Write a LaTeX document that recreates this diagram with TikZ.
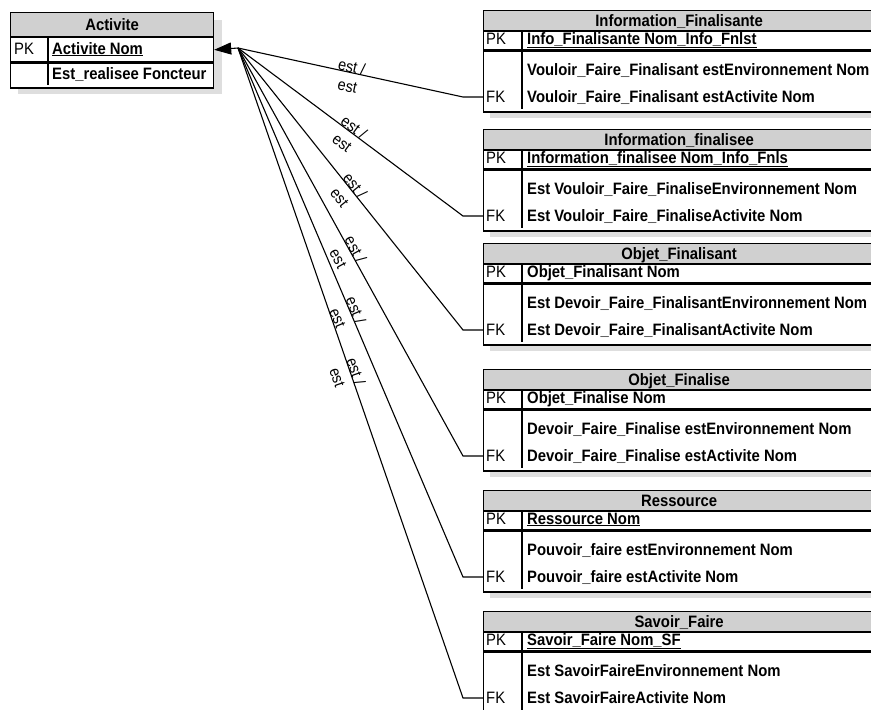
\documentclass[tikz,border=0pt]{standalone}
\usepackage{fontspec}
\setmainfont{Liberation Sans}
\newfontfamily\tblfont[FakeStretch=0.9]{Liberation Sans}
\usetikzlibrary{arrows.meta, calc}
\definecolor{hdrgray}{RGB}{208,208,208}
\definecolor{shdgray}{RGB}{222,222,222}
\tikzset{
  tblhd/.style={draw, fill=hdrgray, line width=1.2pt, inner sep=0pt, anchor=north west,
    text height=11.5pt, text depth=0pt, font=\tblfont\bfseries\fontsize{16.5}{18}\selectfont},
  tblrow/.style={draw, fill=white, line width=1.2pt, inner sep=0pt, anchor=north west},
  keytxt/.style={font=\tblfont\fontsize{16.5}{18}\selectfont, anchor=base west, inner sep=0pt},
  attrtxt/.style={font=\tblfont\bfseries\fontsize{16.5}{18}\selectfont, anchor=base west, inner sep=0pt},
  shd/.style={fill=shdgray},
  rel/.style={line width=1.1pt},
  estlbl/.style={font=\tblfont\fontsize{16}{18}\selectfont, sloped, inner sep=0.5pt},
}

\begin{document}
\begin{tikzpicture}[x=1pt, y=-1pt]
\clip (0,0) rectangle (871,710);
\def\xT{483}\def\xD{522}\def\xA{527}
\fill[shd] (18,20) rectangle (222,94);
\node[tblhd, minimum width=203pt, minimum height=24pt] (act) at (10,12) {Activite};
\node[tblrow, minimum width=203pt, minimum height=24pt] (act-pk) at (act.south west) {};
\node[tblrow, minimum width=203pt, minimum height=25pt] (act-at) at (act-pk.south west) {};
\draw[line width=1.2pt] (48,36) -- (48,85);
\node[keytxt] (act-k) at (14,54) {PK};
\node[attrtxt] (act-a1) at (52,54) {\underline{Activite Nom}};
\node[attrtxt] (act-a2) at (52,79) {Est\_realisee Foncteur};
\coordinate (hub) at (238,48);
\draw[rel, -{Triangle[length=17pt, width=12pt]}] (hub) -- (act-pk.east);
\foreach \i/\T/\ttl/\pk/\atA/\atB in {
1/10/Information\_Finalisante/Info\_Finalisante Nom\_Info\_Fnlst/Vouloir\_Faire\_Finalisant estEnvironnement Nom/Vouloir\_Faire\_Finalisant estActivite Nom,
2/129/Information\_finalisee/Information\_finalisee Nom\_Info\_Fnls/Est Vouloir\_Faire\_FinaliseEnvironnement Nom/Est Vouloir\_Faire\_FinaliseActivite Nom,
3/243/Objet\_Finalisant/Objet\_Finalisant Nom/Est Devoir\_Faire\_FinalisantEnvironnement Nom/Est Devoir\_Faire\_FinalisantActivite Nom,
4/369/Objet\_Finalise/Objet\_Finalise Nom/Devoir\_Faire\_Finalise estEnvironnement Nom/Devoir\_Faire\_Finalise estActivite Nom,
5/490/Ressource/Ressource Nom/Pouvoir\_faire estEnvironnement Nom/Pouvoir\_faire estActivite Nom,
6/611/Savoir\_Faire/Savoir\_Faire Nom\_SF/Est SavoirFaireEnvironnement Nom/Est SavoirFaireActivite Nom}
{
\fill[shd] (\xT+7,\T+99) rectangle (880,\T+108);
\node[tblhd, minimum width=391pt, minimum height=20pt] (tb\i) at (\xT,\T) {\ttl};
\node[tblrow, minimum width=391pt, minimum height=18pt] (tb\i-pk) at (tb\i.south west) {};
\node[tblrow, minimum width=391pt, minimum height=61pt] (tb\i-at) at (tb\i-pk.south west) {};
\draw[line width=1.2pt] (\xD,\T+20) -- (\xD,\T+99);
\node[keytxt] (tb\i-k1) at (486,\T+34) {PK};
\node[attrtxt] (tb\i-a1) at (\xA,\T+34) {\underline{\pk}};
\node[attrtxt] (tb\i-a2) at (\xA,\T+65) {\atA};
\node[keytxt] (tb\i-k2) at (486,\T+92) {FK};
\node[attrtxt] (tb\i-a3) at (\xA,\T+92) {\atB};
\coordinate (fk\i) at (\xT,\T+87);
\coordinate (st\i) at (463,\T+87);
\draw[rel] (hub) -- node[estlbl, above=-1pt, pos=0.5] {est /} node[estlbl, below=8pt, pos=0.5] {est} (st\i) -- (fk\i);
}
\end{tikzpicture}
\end{document}
